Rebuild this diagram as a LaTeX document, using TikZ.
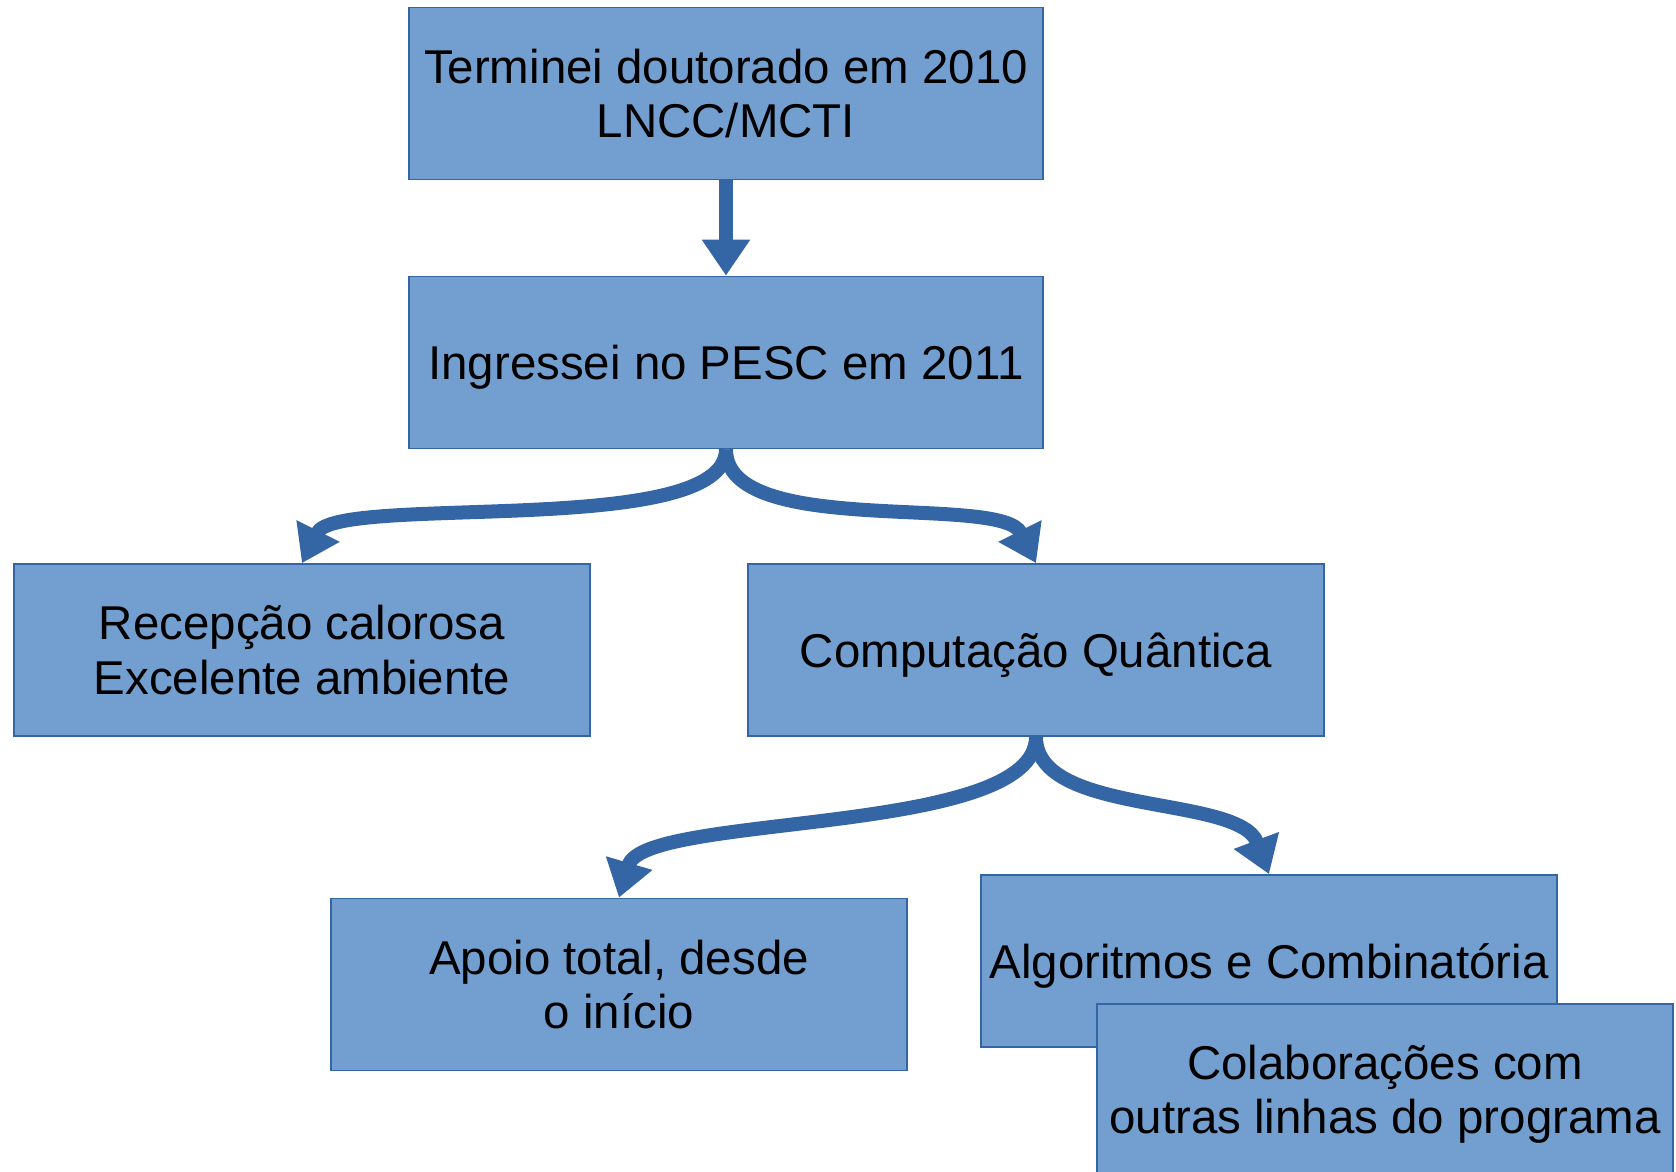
\documentclass[tikz,border=0pt]{standalone}
\usepackage{fontspec}
\setmainfont{Liberation Sans}
\usetikzlibrary{arrows.meta}

\definecolor{azulcaixa}{RGB}{114,159,207}
\definecolor{azulseta}{RGB}{52,101,164}

\tikzset{
  caixa/.style={draw=azulseta, line width=0.5pt, fill=azulcaixa,
    minimum width=5.76cm, minimum height=1.72cm, inner sep=2pt,
    align=center, font=\fontsize{13.5}{15.5}\selectfont},
  umalinha/.style={text height=12.6pt, text depth=2.8pt},
  seta/.style={draw=azulseta, line width=1.4mm,
    -{Triangle[width=4.6mm,length=3.6mm]}},
}

\begin{document}
\begin{tikzpicture}
    \useasboundingbox (0,0) rectangle (16.76,-11.71);

    % Caixas de cima
    \node[caixa, minimum width=6.34cm] (doutorado) at (7.26,-0.935) {Terminei doutorado em 2010\\LNCC/MCTI};
    \node[caixa, umalinha, minimum width=6.34cm] (pesc) at (7.26,-3.625) {Ingressei no PESC em 2011};

    % Segundo nivel
    \node[caixa] (recepcao) at (3.02,-6.50) {Recepção calorosa\\Excelente ambiente};
    \node[caixa, umalinha] (quantica) at (10.36,-6.50) {Computação Quântica};

    % Terceiro nivel (a ultima caixa sobrepoe a anterior)
    \node[caixa] (apoio) at (6.19,-9.845) {Apoio total, desde\\o início};
    \node[caixa, umalinha] (algoritmos) at (12.69,-9.61) {Algoritmos e Combinatória};
    \node[caixa, minimum height=1.80cm] (colaboracoes) at (13.85,-10.94) {Colaborações com\\outras linhas do programa};

    % Setas
    \draw[seta] (doutorado.south) -- (pesc.north);
    \draw[seta] (pesc.south) .. controls +(0,-0.9) and +(0.35,0.7) .. (recepcao.north);
    \draw[seta] (pesc.south) .. controls +(0,-0.9) and +(-0.35,0.7) .. (quantica.north);
    \draw[seta] (quantica.south) .. controls +(0,-1.0) and +(0.25,0.85) .. (apoio.north);
    \draw[seta] (quantica.south) .. controls +(0,-0.8) and +(-0.3,0.8) .. (algoritmos.north);
\end{tikzpicture}
\end{document}
